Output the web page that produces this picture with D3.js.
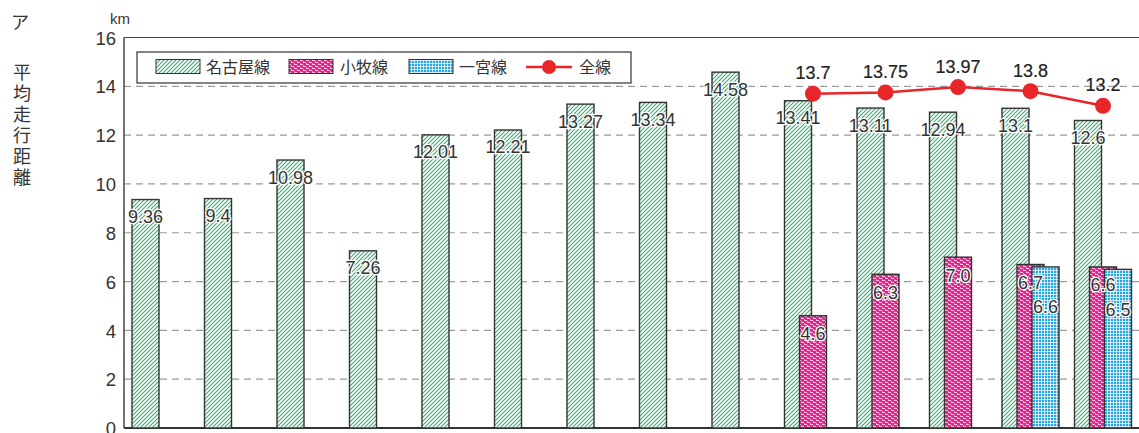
<!DOCTYPE html>
<html><head><meta charset="utf-8">
<script src="https://cdn.jsdelivr.net/npm/d3@7"></script>
<style>
html,body{margin:0;padding:0;background:#fff;}
svg{display:block;}
text{font-family:"Liberation Sans",Arial,sans-serif;}
.jp{font-family:"Noto Sans CJK JP","Noto Sans",sans-serif;}
</style></head>
<body>
<script>
const categories = ["1","2","3","4","5","6","7","8","9","10","11","12","13","14"];
const nagoyaValues = [9.36, 9.4, 10.98, 7.26, 12.01, 12.21, 13.27, 13.34, 14.58, 13.41, 13.11, 12.94, 13.1, 12.6];
const komakiValues = [null, null, null, null, null, null, null, null, null, 4.6, 6.3, 7.0, 6.7, 6.6];
const ichinomiyaValues = [null, null, null, null, null, null, null, null, null, null, null, null, 6.6, 6.5];
const totalValues = [null, null, null, null, null, null, null, null, null, 13.7, 13.75, 13.97, 13.8, 13.2];
const yTicks = [0, 2, 4, 6, 8, 10, 12, 14, 16];
const seriesNames = ["名古屋線", "小牧線", "一宮線", "全線"];
const titleText = "平均走行距離";

const W = 1139, H = 433;
const svg = d3.select("body").append("svg").attr("width", W).attr("height", H);
const defs = svg.append("defs");

// patterns
const pg = defs.append("pattern").attr("id","pGreen").attr("patternUnits","userSpaceOnUse").attr("width",4).attr("height",4);
pg.append("rect").attr("width",4).attr("height",4).attr("fill","#fff");
pg.append("path").attr("d","M-1,1 l2,-2 M0,4 l4,-4 M3,5 l2,-2").attr("stroke","#2fae68").attr("stroke-width",1.05);

const pp = defs.append("pattern").attr("id","pPink").attr("patternUnits","userSpaceOnUse").attr("width",6).attr("height",4);
pp.append("rect").attr("width",6).attr("height",4).attr("fill","#e8208f");
pp.append("rect").attr("x",0).attr("y",0).attr("width",3).attr("height",1).attr("fill","#fbc3de");
pp.append("rect").attr("x",3).attr("y",2).attr("width",3).attr("height",1).attr("fill","#fbc3de");
pp.append("rect").attr("x",3).attr("y",1).attr("width",1).attr("height",1).attr("fill","#f28cc0");
pp.append("rect").attr("x",0).attr("y",3).attr("width",1).attr("height",1).attr("fill","#f28cc0");

const pb = defs.append("pattern").attr("id","pBlue").attr("patternUnits","userSpaceOnUse").attr("width",3).attr("height",3);
pb.append("rect").attr("width",3).attr("height",3).attr("fill","#22a6e6");
pb.append("rect").attr("width",3).attr("height",1).attr("fill","#ffffff").attr("opacity",0.75);
pb.append("rect").attr("width",1).attr("height",3).attr("fill","#ffffff").attr("opacity",0.75);

const plotLeft = 124, plotTop = 37.5, plotBottom = 428;
const y = d3.scaleLinear().domain([0,16]).range([plotBottom, plotTop]);
const x = d3.scaleBand().domain(categories).range([plotLeft, plotLeft + 72.5*categories.length]).padding(0);
const barW = 27, inset = 8, shift = 15;

// gridlines
svg.append("g").selectAll("line").data(yTicks.filter(t => t > 0 && t < 16)).join("line")
  .attr("x1", plotLeft).attr("x2", W).attr("y1", d => y(d)).attr("y2", d => y(d))
  .attr("stroke","#9a9a9a").attr("stroke-width",1.2).attr("stroke-dasharray","7,5");

// y axis
const yAxis = d3.axisLeft(y).tickValues(yTicks).tickSize(0).tickPadding(8);
const ga = svg.append("g").attr("transform",`translate(${plotLeft},0)`).call(yAxis);
ga.select(".domain").remove();
ga.selectAll("text").attr("font-size",18.5).attr("fill","#333").attr("dy","0.36em")
  .style("font-family","'Liberation Sans',Arial,sans-serif");

// frame
svg.append("line").attr("x1",plotLeft).attr("x2",plotLeft).attr("y1",plotTop).attr("y2",plotBottom).attr("stroke","#444").attr("stroke-width",1.5);
svg.append("line").attr("x1",plotLeft).attr("x2",W).attr("y1",plotTop).attr("y2",plotTop).attr("stroke","#444").attr("stroke-width",1.2);
svg.append("line").attr("x1",plotLeft).attr("x2",W).attr("y1",plotBottom).attr("y2",plotBottom).attr("stroke","#333").attr("stroke-width",2);

// bars
function drawBars(vals, k, fill) {
  const data = vals.map((v,i) => ({v, c: categories[i]})).filter(d => d.v != null);
  svg.append("g").selectAll("rect").data(data).join("rect")
    .attr("x", d => x(d.c) + inset + k*shift)
    .attr("y", d => y(d.v))
    .attr("width", barW)
    .attr("height", d => y(0) - y(d.v))
    .attr("fill", fill).attr("stroke","#333").attr("stroke-width",1.4);
}
drawBars(nagoyaValues, 0, "url(#pGreen)");
drawBars(komakiValues, 1, "url(#pPink)");
drawBars(ichinomiyaValues, 2, "url(#pBlue)");

// labels for bars
function drawLabels(vals, k, dy, fmt) {
  const data = vals.map((v,i) => ({v, c: categories[i]})).filter(d => d.v != null);
  svg.append("g").selectAll("text").data(data).join("text")
    .attr("x", d => x(d.c) + inset + k*shift + barW/2)
    .attr("y", d => y(d.v) + dy)
    .attr("text-anchor","middle").attr("font-size",18).attr("fill","#333")
    .attr("stroke","#fff").attr("stroke-width",2.5).attr("stroke-linejoin","round")
    .attr("paint-order","stroke")
    .text(d => fmt(d.v));
}
drawLabels(nagoyaValues, 0, 23.5, v => String(v));
drawLabels(komakiValues, 1, 24.5, v => v.toFixed(1));
drawLabels(ichinomiyaValues, 2, 46.5, v => v.toFixed(1));

// total line
const tdata = totalValues.map((v,i) => ({v, c: categories[i]})).filter(d => d.v != null);
const tx = d => x(d.c) + inset + shift + barW/2;
svg.append("path").datum(tdata)
  .attr("d", d3.line().x(tx).y(d => y(d.v)))
  .attr("fill","none").attr("stroke","#e8262a").attr("stroke-width",2.5);
svg.append("g").selectAll("circle").data(tdata).join("circle")
  .attr("cx", tx).attr("cy", d => y(d.v)).attr("r", 8).attr("fill","#e8262a");
svg.append("g").selectAll("text").data(tdata).join("text")
  .attr("x", tx).attr("y", d => y(d.v) - 14.5)
  .attr("text-anchor","middle").attr("font-size",18).attr("fill","#222")
  .attr("stroke","#222").attr("stroke-width",0.2)
  .text(d => String(d.v));

// legend
const lg = svg.append("g");
lg.append("rect").attr("x",137).attr("y",52).attr("width",494).attr("height",31)
  .attr("fill","#fff").attr("stroke","#333").attr("stroke-width",1.2);
const swatches = [
  {x:156, fill:"url(#pGreen)", tx:206},
  {x:289, fill:"url(#pPink)", tx:340},
  {x:409, fill:"url(#pBlue)", tx:459}
];
swatches.forEach((s,i) => {
  lg.append("rect").attr("x",s.x).attr("y",59.5).attr("width",44).attr("height",14)
    .attr("fill",s.fill).attr("stroke","#333").attr("stroke-width",1);
  lg.append("text").attr("class","jp").attr("x",s.tx).attr("y",73).attr("font-size",16).attr("fill","#333").text(seriesNames[i]);
});
lg.append("line").attr("x1",526).attr("x2",572).attr("y1",67).attr("y2",67).attr("stroke","#e8262a").attr("stroke-width",2.5);
lg.append("circle").attr("cx",549).attr("cy",67).attr("r",7).attr("fill","#e8262a");
lg.append("text").attr("class","jp").attr("x",579).attr("y",73).attr("font-size",16).attr("fill","#333").text(seriesNames[3]);

// unit and title
svg.append("text").attr("x",110).attr("y",24).attr("font-size",15).attr("fill","#333").text("km");
svg.append("text").attr("class","jp").attr("x",20).attr("y",29).attr("text-anchor","middle").attr("font-size",18).attr("fill","#333").text("ア");
svg.append("text").attr("class","jp").attr("x",22).attr("y",63)
  .style("writing-mode","vertical-rl").style("letter-spacing","3px")
  .attr("font-size",18).attr("fill","#333").text(titleText);
</script>
</body></html>
